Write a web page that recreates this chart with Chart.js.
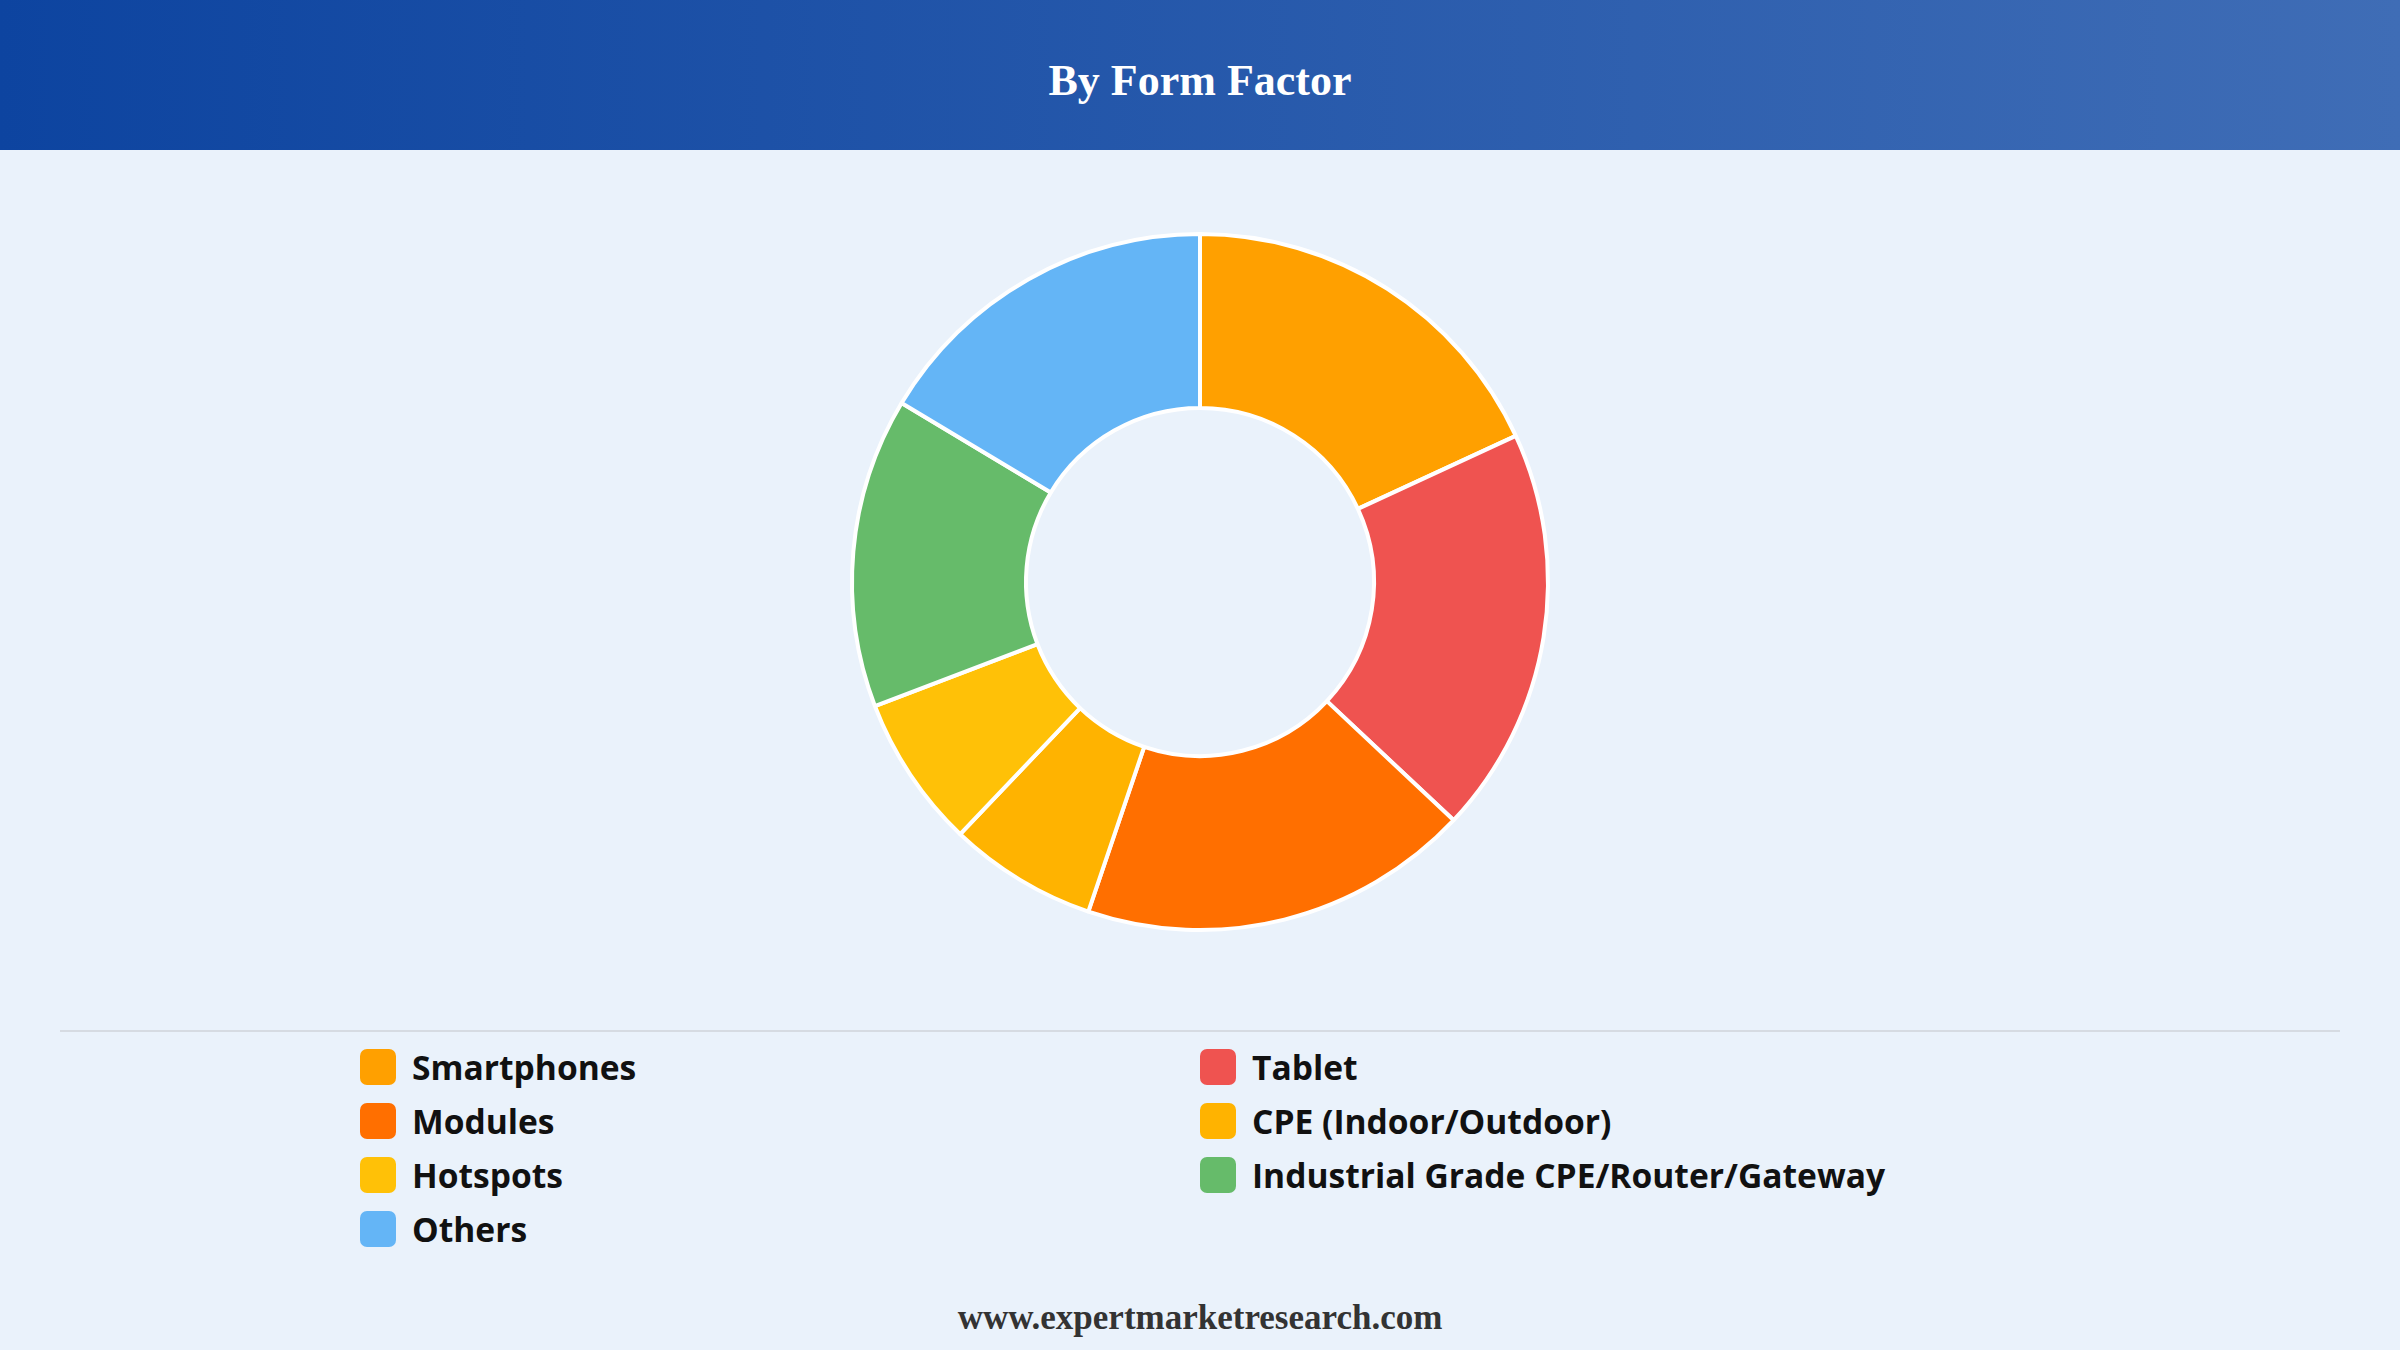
<!DOCTYPE html>
<html><head><meta charset="utf-8">
<script src="https://cdn.jsdelivr.net/npm/chart.js@4"></script>
<style>
html,body{margin:0;padding:0;width:2400px;height:1350px;background:#eaf2fb;overflow:hidden;font-family:"Open Sans",sans-serif}
#hdr{position:absolute;left:0;top:0;width:2400px;height:150px;background:linear-gradient(90deg,#0d44a0,#3f6db6);display:flex;align-items:center;justify-content:center;color:#fff;font-family:"Liberation Serif",serif;font-weight:bold;font-size:44px;padding-top:10px;box-sizing:border-box}
#wrap{position:absolute;left:800px;top:202px;width:800px;height:780px}
#sep{position:absolute;left:60px;top:1030px;width:2280px;height:2px;background:#d6dbe2}
#legend{position:absolute;left:360px;top:1049px;width:1700px;display:grid;grid-template-columns:840px 860px;row-gap:18px}
.it{display:flex;align-items:center;font-size:33.6px;font-weight:bold;color:#111;height:36px}
.sw{width:36px;height:36px;border-radius:7px;margin-right:16px}
#ft{position:absolute;left:0;width:2400px;top:1298px;text-align:center;font-family:"Liberation Serif",serif;font-weight:bold;font-size:35px;color:#333}
</style></head><body>
<div id="hdr">By Form Factor</div>
<div id="wrap"><canvas id="c"></canvas></div>
<div id="sep"></div>
<div id="legend"></div>
<div id="ft">www.expertmarketresearch.com</div>
<script>
const categories=["Smartphones","Tablet","Modules","CPE (Indoor/Outdoor)","Hotspots","Industrial Grade CPE/Router/Gateway","Others"];
const values=[18.1,18.9,18.2,6.9,7.1,14.4,16.4];
const colors=["#ffa000","#ef5350","#ff6f00","#ffb300","#ffc107","#66bb6a","#64b5f6"];
const lg=document.getElementById('legend');
categories.forEach((c,i)=>{const d=document.createElement('div');d.className='it';d.innerHTML='<span class="sw" style="background:'+colors[i]+'"></span>'+c;lg.appendChild(d);});
new Chart(document.getElementById('c'),{type:'doughnut',
data:{labels:categories,datasets:[{data:values,backgroundColor:colors,borderColor:'#ffffff',borderWidth:4}]},
options:{responsive:true,maintainAspectRatio:false,animation:false,cutout:'50%',layout:{padding:{top:30,bottom:50}},
plugins:{legend:{display:false},tooltip:{enabled:false}}}});
</script>
</body></html>
